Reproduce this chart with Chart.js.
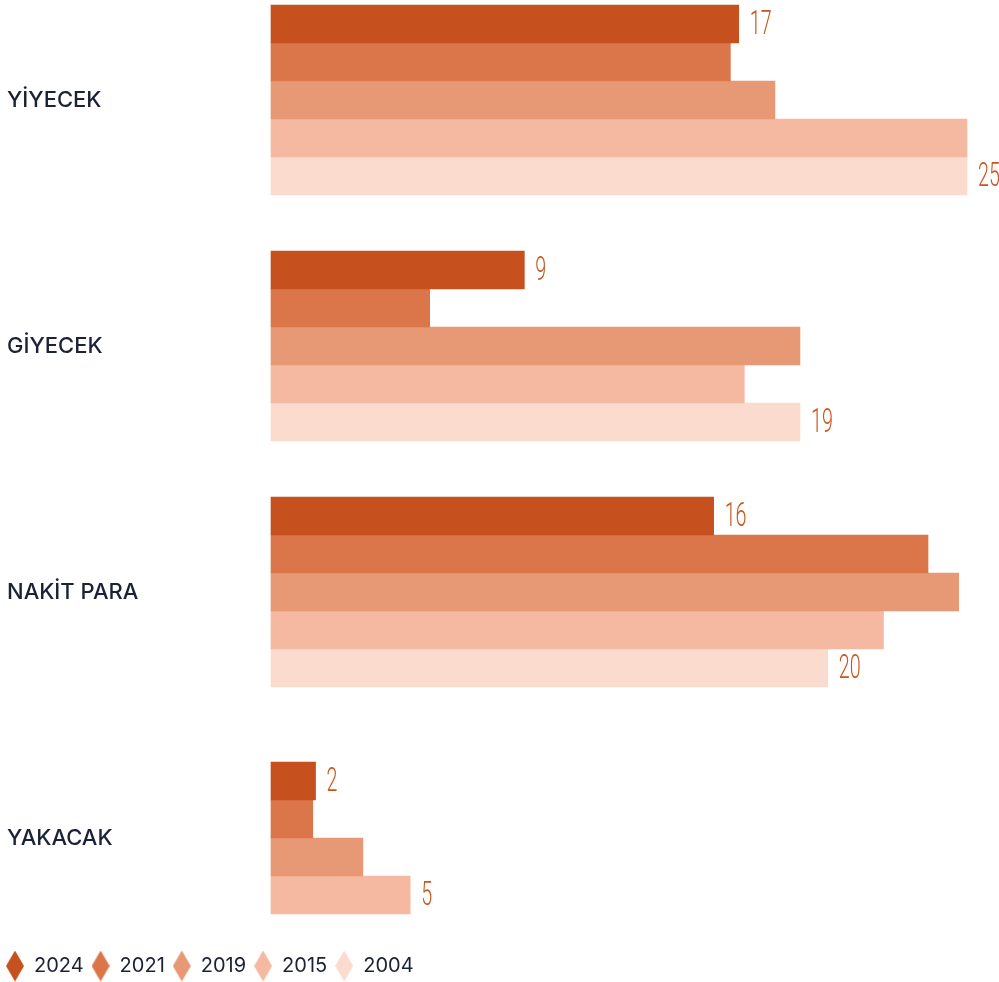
<!DOCTYPE html>
<html lang="tr">
<head>
<meta charset="utf-8">
<title>Harcama kalemleri</title>
<script src="https://cdn.jsdelivr.net/npm/chart.js@4.4.1/dist/chart.umd.min.js"></script>
<style>
    html, body { margin: 0; padding: 0; background: #ffffff; }
    #wrap { width: 999px; height: 982px; }
</style>
</head>
<body>
<div id="wrap"><canvas id="chart" width="999" height="982"></canvas></div>
<script>
// Chart data
const categories = ['YİYECEK', 'GİYECEK', 'NAKİT PARA', 'YAKACAK'];
const years = ['2024', '2021', '2019', '2015', '2004'];
const values2024 = [16.8, 9.1, 15.9, 1.6];
const values2021 = [16.5, 5.7, 23.6, 1.5];
const values2019 = [18.1, 19.0, 24.7, 3.3];
const values2015 = [25.0, 17.0, 22.0, 5.0];
const values2004 = [25.0, 19.0, 20.0, null];
const seriesColors = ['#c7511e', '#db754a', '#e79875', '#f4b9a0', '#fcdbcf'];

const allSeries = [values2024, values2021, values2019, values2015, values2004];

const textColor = '#1b2237';
const labelColor = '#c9561f';

// Tall diamond markers for the legend
function makeDiamond(color) {
    const c = document.createElement('canvas');
    c.width = 18;
    c.height = 31;
    const g = c.getContext('2d');
    g.fillStyle = color;
    g.beginPath();
    g.moveTo(9, 0);
    g.lineTo(18, 15.5);
    g.lineTo(9, 31);
    g.lineTo(0, 15.5);
    g.closePath();
    g.fill();
    return c;
}
const legendMarks = seriesColors.map(makeDiamond);

// Value labels: first series and the last non-empty series of each group
const valueLabels = {
    id: 'valueLabels',
    afterDatasetsDraw(chart) {
        const ctx = chart.ctx;
        ctx.save();
        ctx.fillStyle = labelColor;
        ctx.font = '300 34px Roboto';
        ctx.textAlign = 'left';
        ctx.textBaseline = 'middle';
        categories.forEach((_, i) => {
            let last = -1;
            allSeries.forEach((s, d) => { if (s[i] !== null) last = d; });
            [0, last].forEach(d => {
                const el = chart.getDatasetMeta(d).data[i];
                if (!el) return;
                ctx.save();
                ctx.translate(el.x + 11, el.y + 1);
                ctx.scale(0.58, 1);
                ctx.fillText(String(Math.round(allSeries[d][i])), 0, 0);
                ctx.restore();
            });
        });
        ctx.restore();
    }
};

// Move the legend down to the bottom edge and flush left
const legendPlace = {
    id: 'legendPlace',
    afterLayout(chart) {
        const lg = chart.legend;
        const dx = -9;
        const dy = 110;
        lg.left += dx;
        lg.right += dx;
        lg.top += dy;
        lg.bottom += dy;
    }
};

const datasets = years.map((y, d) => ({
    label: y,
    data: allSeries[d],
    backgroundColor: seriesColors[d],
    borderWidth: 0,
    barThickness: 38,
    skipNull: true,
    clip: false
}));

new Chart(document.getElementById('chart'), {
    type: 'bar',
    data: { labels: categories, datasets: datasets },
    options: {
        indexAxis: 'y',
        responsive: false,
        animation: false,
        layout: { padding: { left: 7, top: 100, right: 32, bottom: 106 } },
        scales: {
            x: {
                display: false,
                min: 0,
                max: 25
            },
            y: {
                offset: false,
                grid: { display: false },
                border: { display: false },
                afterFit(scale) { scale.width = 264; },
                ticks: {
                    crossAlign: 'far',
                    color: textColor,
                    font: { family: 'Inter', size: 22, weight: '500' }
                }
            }
        },
        plugins: {
            tooltip: { enabled: false },
            legend: {
                position: 'bottom',
                align: 'start',
                labels: {
                    usePointStyle: true,
                    pointStyleWidth: 18,
                    padding: 8,
                    color: textColor,
                    font: { family: 'Inter', size: 20 },
                    generateLabels(chart) {
                        const items = Chart.defaults.plugins.legend.labels.generateLabels(chart);
                        items.forEach((it, i) => { it.pointStyle = legendMarks[i]; });
                        return items;
                    }
                }
            }
        }
    },
    plugins: [valueLabels, legendPlace]
});
</script>
</body>
</html>
